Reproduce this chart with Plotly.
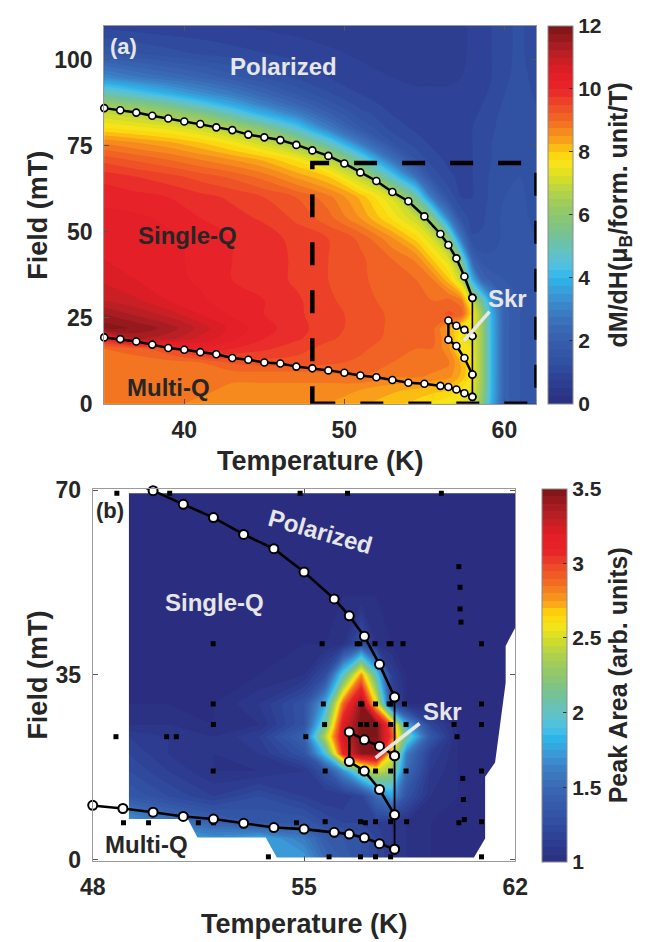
import plotly.graph_objects as go

FONT = "Liberation Sans, Arial, Helvetica, sans-serif"
INK = "#262626"
LIGHT = "#e6e6e6"

# ---------------- phase boundaries (T in K, field in mT) ----------------
upper_T = [35, 36, 37, 38, 39, 40, 41, 42, 43, 44, 45, 46, 47, 48, 49,
           50, 51, 52, 53, 54, 55, 56, 56.5, 57, 57.5, 58]
upper_F = [86.0, 85.4, 84.7, 83.8, 83.0, 82.1, 81.4, 80.4, 79.6, 78.3, 77.5, 76.7, 75.3, 73.7, 72.1,
           69.9, 67.3, 64.8, 61.6, 58.9, 54.5, 49.4, 46.2, 42.3, 37.0, 30.8]
lower_T = [35, 36, 37, 38, 39, 40, 41, 42, 43, 44, 45, 46, 47, 48, 49,
           50, 51, 52, 53, 54, 55, 56, 56.5, 57, 57.5, 58]
lower_F = [19.3, 18.8, 18.1, 17.2, 16.2, 15.7, 15.0, 14.4, 13.3, 12.8, 12.0, 11.7, 10.8, 10.3, 9.7,
           9.0, 8.2, 7.7, 6.9, 6.1, 5.8, 5.2, 4.85, 4.15, 3.05, 2.0]
vert_T = [58, 58, 58, 58]
vert_F = [30.8, 19.7, 8.5, 2.0]
skr_T = [58, 57.5, 57, 56.5, 56.5, 57, 57.5, 58]
skr_F = [19.7, 21.5, 22.7, 24.2, 18.6, 16.8, 13.3, 8.5]

# ---------------- panel (a): dM/dH map ----------------
dmdh_T = [35, 37, 39, 41, 43, 45, 47, 49, 51, 53, 54.5, 55.5, 56.5, 57.3, 58, 58.6, 59.2, 60, 61, 62]
dmdh_F = [0, 4, 8, 12, 16, 19, 22, 26, 30, 36, 42, 48, 54, 60, 66, 71, 76, 80, 84, 87, 90, 95, 102, 110]
dmdh_z = [
    [8.8, 8.8, 8.8, 8.7, 8.6, 8.6, 8.6, 8.5, 8.3, 8.1, 7.9, 7.7, 7.5, 7.4, 7.3, 6.0, 3.9, 2.1, 1.75, 1.65],
    [8.8, 8.8, 8.8, 8.8, 8.7, 8.7, 8.7, 8.6, 8.5, 8.3, 8.2, 8.1, 8.0, 7.7, 7.4, 6.2, 4.0, 2.1, 1.75, 1.65],
    [8.8, 8.8, 8.8, 8.8, 8.8, 8.8, 8.8, 8.9, 9.0, 8.8, 8.8, 8.7, 8.6, 8.2, 7.6, 6.3, 4.0, 2.1, 1.75, 1.65],
    [8.9, 8.9, 8.9, 9.0, 9.3, 9.4, 9.4, 9.3, 9.2, 9.0, 8.9, 8.9, 8.8, 8.2, 7.6, 6.3, 4.0, 2.1, 1.75, 1.65],
    [9.0, 9.1, 9.5, 10.2, 10.0, 9.8, 9.6, 9.4, 9.3, 9.1, 9.0, 9.0, 8.6, 7.6, 7.5, 6.3, 4.0, 2.1, 1.75, 1.65],
    [10.0, 11.3, 11.1, 10.7, 10.3, 10.0, 9.8, 9.55, 9.35, 9.2, 9.1, 9.1, 8.5, 7.5, 7.5, 6.3, 4.0, 2.1, 1.75, 1.65],
    [11.9, 11.7, 11.4, 10.9, 10.4, 10.1, 9.85, 9.6, 9.4, 9.2, 9.1, 9.1, 8.4, 7.6, 7.5, 6.3, 4.0, 2.1, 1.75, 1.65],
    [11.5, 11.2, 10.9, 10.5, 10.2, 10.0, 9.8, 9.6, 9.4, 9.2, 9.1, 9.1, 9.3, 9.2, 7.7, 6.2, 3.9, 2.1, 1.75, 1.65],
    [11.0, 10.8, 10.5, 10.3, 10.1, 10.0, 9.8, 9.55, 9.35, 9.15, 9.05, 9.0, 9.1, 8.8, 7.0, 5.2, 3.4, 2.0, 1.75, 1.65],
    [10.7, 10.5, 10.35, 10.2, 10.0, 9.9, 9.7, 9.5, 9.3, 9.1, 9.0, 8.8, 8.1, 7.0, 4.0, 2.3, 1.9, 1.75, 1.7, 1.6],
    [10.5, 10.4, 10.3, 10.2, 10.0, 9.9, 9.7, 9.5, 9.3, 9.0, 8.7, 8.0, 7.3, 5.4, 2.2, 1.6, 1.55, 1.6, 1.65, 1.55],
    [10.3, 10.4, 10.3, 10.2, 10.0, 9.9, 9.65, 9.5, 9.2, 8.55, 7.9, 7.2, 5.9, 2.8, 1.3, 1.3, 1.4, 1.55, 1.6, 1.5],
    [10.3, 10.3, 10.2, 10.0, 9.85, 9.7, 9.45, 9.1, 8.5, 7.7, 7.0, 5.8, 3.0, 1.5, 1.1, 1.2, 1.4, 1.55, 1.55, 1.45],
    [10.2, 10.1, 10.0, 9.85, 9.7, 9.5, 9.25, 8.85, 8.2, 7.2, 5.3, 2.8, 1.5, 1.0, 1.0, 1.1, 1.35, 1.5, 1.55, 1.4],
    [9.9, 9.75, 9.6, 9.4, 9.2, 8.9, 8.45, 8.0, 6.9, 4.6, 2.6, 1.5, 1.05, 0.95, 1.0, 1.15, 1.3, 1.45, 1.5, 1.4],
    [9.4, 9.2, 9.0, 8.75, 8.5, 8.2, 7.7, 6.8, 5.0, 2.6, 1.5, 1.1, 0.95, 0.9, 1.0, 1.1, 1.25, 1.45, 1.5, 1.4],
    [8.7, 8.5, 8.3, 8.0, 7.6, 7.0, 6.2, 4.8, 2.8, 1.5, 1.1, 0.95, 0.85, 0.9, 1.0, 1.1, 1.25, 1.45, 1.5, 1.4],
    [7.8, 7.65, 7.45, 7.1, 6.6, 5.8, 4.6, 3.0, 1.8, 1.15, 0.95, 0.85, 0.85, 0.9, 1.0, 1.1, 1.2, 1.4, 1.5, 1.35],
    [7.1, 6.8, 6.4, 5.9, 5.0, 4.0, 3.1, 2.1, 1.4, 1.0, 0.85, 0.85, 0.85, 0.9, 0.95, 1.05, 1.15, 1.35, 1.45, 1.3],
    [6.2, 5.9, 5.4, 4.6, 3.8, 3.0, 2.3, 1.65, 1.15, 0.9, 0.8, 0.8, 0.8, 0.85, 0.9, 1.0, 1.1, 1.3, 1.4, 1.25],
    [5.2, 4.6, 4.0, 3.4, 2.9, 2.3, 1.75, 1.3, 1.0, 0.85, 0.8, 0.8, 0.8, 0.8, 0.85, 0.95, 1.05, 1.25, 1.4, 1.2],
    [3.2, 2.8, 2.5, 2.2, 1.85, 1.5, 1.2, 1.0, 0.85, 0.75, 0.7, 0.7, 0.7, 0.75, 0.8, 0.9, 1.0, 1.2, 1.35, 1.15],
    [1.7, 1.5, 1.35, 1.2, 1.1, 1.0, 0.9, 0.8, 0.7, 0.65, 0.6, 0.6, 0.65, 0.7, 0.8, 0.9, 1.0, 1.2, 1.3, 1.1],
    [0.9, 0.85, 0.8, 0.8, 0.75, 0.7, 0.65, 0.6, 0.6, 0.6, 0.6, 0.6, 0.65, 0.7, 0.8, 0.9, 1.0, 1.2, 1.3, 1.1],
]

# ---------------- panel (b): peak area map ----------------
peak_T = [48, 49.2, 50.5, 52, 53.5, 55, 55.7, 56.3, 56.9, 57.4, 57.9, 58.4, 59.2, 60.1, 60.9, 62]
peak_F = [0, 4, 7, 12, 16.8, 20, 23.3, 25.6, 29.5, 35, 40.9, 50, 60, 70.3]
peak_z = [
    [1.5, 1.5, 1.5, 1.6, 1.7, 1.75, 1.5, 1.4, 1.3, 1.2, 1.1, 1.05, 1.0, 1.0, 1.0, 1.0],
    [1.7, 1.8, 1.8, 1.7, 1.8, 1.6, 1.4, 1.35, 1.3, 1.2, 1.1, 1.05, 1.0, 1.0, 1.0, 1.0],
    [1.6, 1.75, 1.6, 1.45, 1.35, 1.35, 1.25, 1.2, 1.2, 1.15, 1.1, 1.05, 1.0, 1.0, 1.0, 1.0],
    [1.3, 1.35, 1.25, 1.15, 1.25, 1.15, 1.1, 1.1, 1.2, 1.5, 1.75, 1.3, 1.05, 1.0, 1.0, 1.0],
    [1.2, 1.25, 1.15, 1.05, 1.05, 1.1, 1.3, 1.7, 2.2, 2.5, 2.3, 1.5, 1.1, 1.0, 1.0, 1.0],
    [1.15, 1.2, 1.1, 1.05, 1.1, 1.3, 1.9, 3.1, 3.45, 3.45, 2.6, 1.6, 1.15, 1.0, 1.0, 1.0],
    [1.1, 1.15, 1.1, 1.05, 1.15, 1.45, 2.4, 3.25, 3.5, 3.5, 3.0, 2.1, 1.35, 1.0, 1.0, 1.0],
    [1.05, 1.05, 1.05, 1.0, 1.05, 1.3, 2.1, 3.2, 3.5, 3.5, 2.9, 1.8, 1.2, 1.0, 1.0, 1.0],
    [1.0, 1.0, 1.0, 1.0, 1.1, 1.3, 1.8, 2.9, 3.45, 2.6, 1.3, 1.0, 1.0, 1.0, 1.0, 1.0],
    [1.0, 1.0, 1.0, 1.0, 1.0, 1.05, 1.25, 2.0, 2.8, 2.0, 1.15, 1.0, 1.0, 1.0, 1.0, 1.0],
    [1.0, 1.0, 1.0, 1.0, 1.0, 1.0, 1.0, 1.05, 1.3, 1.05, 1.0, 1.0, 1.0, 1.0, 1.0, 1.0],
    [1.0, 1.0, 1.0, 1.0, 1.0, 1.0, 1.0, 1.0, 1.0, 1.0, 1.0, 1.0, 1.0, 1.0, 1.0, 1.0],
    [1.0, 1.0, 1.0, 1.0, 1.0, 1.0, 1.0, 1.0, 1.0, 1.0, 1.0, 1.0, 1.0, 1.0, 1.0, 1.0],
    [1.0, 1.0, 1.0, 1.0, 1.0, 1.0, 1.0, 1.0, 1.0, 1.0, 1.0, 1.0, 1.0, 1.0, 1.0, 1.0],
]

# measured region of panel (b) (outside it the map is blank)
hull_T = [49.2, 51.15, 51.47, 53.73, 54.1, 60.63, 61.0, 61.0, 61.33, 61.68, 61.68, 62.0, 62.0, 49.2]
hull_F = [7.7, 7.7, 4.2, 4.2, 0.4, 0.4, 4.0, 15.7, 18.4, 33.5, 40.5, 44.0, 69.4, 69.4]

# measurement points of panel (b)
scan_T = [48.8, 50.55, 54.87, 56.44, 59.55,
          60.13, 60.17, 60.17, 60.2,
          51.99, 55.6, 56.76, 56.85, 57.35, 57.82, 57.88, 58.28, 60.88,
          51.99, 55.64, 56.87, 56.92, 57.37, 57.82, 57.88, 58.33, 60.88,
          52.0, 55.68, 56.87, 57.08, 57.37, 57.87, 58.38, 59.97, 60.88,
          48.77, 50.45, 50.77, 55.06, 60.07,
          51.99, 55.7, 56.87, 56.94, 57.37, 57.87, 58.38, 60.88,
          60.26, 60.28,
          49.02, 49.85, 51.5, 52.0, 54.75, 55.7, 56.87, 57.03, 57.37, 57.87, 58.4, 60.13, 60.31, 60.88,
          53.82, 55.83, 56.87, 57.37, 57.87, 60.88]
scan_F = [69.4, 69.4, 69.4, 69.4, 69.4,
          55.5, 51.6, 47.5, 45.0,
          40.9, 40.9, 40.9, 40.9, 40.9, 40.9, 40.9, 40.9, 40.9,
          29.5, 29.5, 29.5, 29.5, 29.5, 29.5, 29.5, 29.5, 29.5,
          25.6, 25.6, 25.6, 25.6, 25.6, 25.6, 25.6, 25.6, 25.6,
          23.3, 23.3, 23.3, 23.3, 23.3,
          16.8, 16.8, 16.8, 16.8, 16.8, 16.8, 16.8, 16.8,
          15.4, 11.4,
          7.0, 7.0, 7.0, 7.0, 7.0, 7.2, 7.2, 7.0, 7.2, 7.2, 7.2, 7.0, 7.6, 7.2,
          0.55, 0.55, 0.55, 0.55, 0.55, 0.55]

# axis ranges
a_T_range = [35, 62]
a_F_range = [0, 110]
b_T_range = [48, 62]
b_F_range = [-0.2, 70.3]
zoom_T = [48, 62]   # region of panel (a) shown in panel (b)
zoom_F = [0, 70]

cscale = [
    [0.0, "#2b2e80"], [0.06, "#2d3f93"], [0.11, "#3150a2"], [0.167, "#375ead"],
    [0.208, "#3a6db6"], [0.25, "#3b80c4"], [0.292, "#3a9ad8"], [0.333, "#2cb6ea"],
    [0.358, "#4bc0e6"], [0.40, "#63c2c4"], [0.442, "#71c19a"], [0.483, "#86c57a"],
    [0.525, "#9ccb5f"], [0.567, "#b9d543"], [0.60, "#d6de25"], [0.633, "#f6e41a"],
    [0.667, "#fdd20a"], [0.683, "#fbb116"], [0.708, "#f7941e"], [0.75, "#f26b23"],
    [0.792, "#ee4a28"], [0.833, "#e8232a"], [0.875, "#e31e26"], [0.933, "#b41f24"],
    [1.0, "#7b1517"],
]

W, H = 657, 942
A_X = [95 / W, 545 / W]
A_Y = [1 - 403 / H, 1 - 15 / H]
B_X = [83 / W, 523 / W]
B_Y = [1 - 872 / H, 1 - 490 / H]


def bold(size, color=INK):
    return dict(family=FONT, size=size, color=color, weight="bold")


def cbar(x_px, top_px, bot_px, tickvals, ticktext, title):
    return dict(
        x=x_px / W, xanchor="left", y=1 - bot_px / H, yanchor="bottom",
        len=(bot_px - top_px) / H, lenmode="fraction", thickness=25, thicknessmode="pixels",
        xpad=0, ypad=0, outlinewidth=1, outlinecolor="#8c8c8c",
        ticks="inside", ticklen=4, tickcolor="#333333", tickwidth=1,
        tickvals=tickvals, ticktext=ticktext, tickfont=bold(21),
        title=dict(text=title, side="right", font=bold(25)),
    )


fig = go.Figure()

fig.add_trace(go.Contour(
    x=dmdh_T, y=dmdh_F, z=dmdh_z, xaxis="x", yaxis="y",
    colorscale=cscale, zmin=0, zmax=12,
    contours=dict(start=0, end=12, size=0.25, coloring="fill", showlines=False),
    line=dict(width=0, smoothing=1), hoverinfo="skip",
    colorbar=cbar(557, 15, 403, [0, 2, 4, 6, 8, 10, 12], ["0", "2", "4", "6", "8", "10", "12"],
                  "dM/dH(\u03bc<sub>B</sub>/form. unit/T)"),
))

fig.add_trace(go.Contour(
    x=peak_T, y=peak_F, z=peak_z, xaxis="x2", yaxis="y2",
    colorscale=cscale, zmin=1, zmax=3.5,
    contours=dict(start=1, end=3.5, size=0.05, coloring="fill", showlines=False),
    line=dict(width=0, smoothing=0), hoverinfo="skip",
    colorbar=cbar(551, 490, 873, [1, 1.5, 2, 2.5, 3, 3.5], ["1", "1.5", "2", "2.5", "3", "3.5"],
                  "Peak Area (arb. units)"),
))

# blank (unmeasured) area of panel (b)
mask_T = [b_T_range[0], b_T_range[1], hull_T[-2], hull_T[-1]] + hull_T[:-2] + [b_T_range[1], b_T_range[0]]
mask_F = [b_F_range[1], b_F_range[1], hull_F[-2], hull_F[-1]] + hull_F[:-2] + [b_F_range[0], b_F_range[0]]
fig.add_trace(go.Scatter(x=mask_T, y=mask_F, xaxis="x2", yaxis="y2", mode="lines",
                         fill="toself", fillcolor="white", line=dict(width=0, color="white"),
                         hoverinfo="skip", showlegend=False))

fig.add_trace(go.Scatter(x=scan_T, y=scan_F, xaxis="x2", yaxis="y2", mode="markers",
                         marker=dict(symbol="square", size=5, color="black"),
                         hoverinfo="skip", showlegend=False, cliponaxis=False))

# phase lines, panel (a)
for tx, fy, lw in [(upper_T, upper_F, 2.5), (lower_T, lower_F, 2.5), (skr_T, skr_F, 2.5)]:
    fig.add_trace(go.Scatter(x=tx, y=fy, xaxis="x", yaxis="y", mode="lines+markers",
                             line=dict(color="black", width=lw),
                             marker=dict(size=7, color="white", line=dict(color="black", width=1.6)),
                             cliponaxis=False, hoverinfo="skip", showlegend=False))
fig.add_trace(go.Scatter(x=vert_T, y=vert_F, xaxis="x", yaxis="y", mode="lines+markers",
                         line=dict(color="black", width=1.6),
                         marker=dict(size=7, color="white", line=dict(color="black", width=1.6)),
                         cliponaxis=False, hoverinfo="skip", showlegend=False))


def in_b(tx, fy):
    pts = [(t, f) for t, f in zip(tx, fy)
           if b_T_range[0] <= t <= b_T_range[1] and b_F_range[0] <= f <= b_F_range[1]]
    return [p[0] for p in pts], [p[1] for p in pts]


# phase lines, panel (b)
for tx, fy, lw in [(upper_T, upper_F, 2.6), (lower_T, lower_F, 2.6), (skr_T, skr_F, 2.6), (vert_T, vert_F, 1.8)]:
    fig.add_trace(go.Scatter(x=tx, y=fy, xaxis="x2", yaxis="y2", mode="lines",
                             line=dict(color="black", width=lw), hoverinfo="skip", showlegend=False))
    mx, my = in_b(tx, fy)
    fig.add_trace(go.Scatter(x=mx, y=my, xaxis="x2", yaxis="y2", mode="markers",
                             marker=dict(size=9, color="white", line=dict(color="black", width=2)),
                             cliponaxis=False, hoverinfo="skip", showlegend=False))

axis_common = dict(showgrid=False, zeroline=False, showline=True, linecolor="#9a9a9a", linewidth=1,
                   mirror="ticks", ticks="inside", ticklen=5, tickcolor="#555555",
                   tickfont=bold(23), ticklabelstandoff=6)

fig.update_layout(
    width=W, height=H, margin=dict(l=0, r=0, t=0, b=0),
    paper_bgcolor="white", plot_bgcolor="white", showlegend=False,
    xaxis=dict(domain=A_X, anchor="y", range=a_T_range, tickvals=[40, 50, 60], **axis_common),
    yaxis=dict(domain=A_Y, anchor="x", range=a_F_range, tickvals=[0, 25, 50, 75, 100], **axis_common),
    xaxis2=dict(domain=B_X, anchor="y2", range=b_T_range, tickvals=[48, 55, 62], **axis_common),
    yaxis2=dict(domain=B_Y, anchor="x2", range=b_F_range, tickvals=[0, 35, 70], **axis_common),
)

# dashed zoom box and Skr pointers
fig.add_shape(type="rect", xref="x", yref="y", x0=zoom_T[0], x1=zoom_T[1], y0=zoom_F[0], y1=zoom_F[1],
              line=dict(color="black", width=4.5, dash="23px,25px"), layer="above")
fig.add_shape(type="line", xref="x", yref="y", x0=59.07, y0=26.8, x1=57.47, y1=18.3,
              line=dict(color=LIGHT, width=3.5), layer="above")
fig.add_shape(type="line", xref="x2", yref="y2", x0=58.83, y0=25.8, x1=57.37, y1=19.3,
              line=dict(color=LIGHT, width=3.5), layer="above")

ann = []


def txt(text, x, y, xref, yref, size, color=INK, angle=0, yanchor="middle"):
    ann.append(dict(text=text, x=x, y=y, xref=xref, yref=yref, showarrow=False,
                    font=bold(size, color), textangle=angle, xanchor="center", yanchor=yanchor))


txt("(a)", 36.2, 104, "x", "y", 22, LIGHT)
txt("Polarized", 46.2, 98, "x", "y", 24, LIGHT)
txt("Single-Q", 40.2, 49, "x", "y", 24)
txt("Multi-Q", 39.0, 4.8, "x", "y", 24)
txt("Skr", 60.2, 30.6, "x", "y", 24, LIGHT)

txt("(b)", 48.57, 66.1, "x2", "y2", 22)
txt("Polarized", 55.54, 62.1, "x2", "y2", 24, LIGHT, 16)
txt("Single-Q", 52.04, 48.8, "x2", "y2", 24, LIGHT)
txt("Multi-Q", 49.78, 2.9, "x2", "y2", 24)
txt("Skr", 59.58, 28.0, "x2", "y2", 24, LIGHT)
txt("|", 58.2, -3.2, "x2", "y2", 11, "#444444")

# axis titles
txt("Temperature (K)", 320 / W, 1 - 444 / H, "paper", "paper", 27, yanchor="top")
txt("Temperature (K)", 303 / W, 1 - 919 / H, "paper", "paper", 27, yanchor="top")
txt("Field (mT)", 26 / W, 1 - 209 / H, "paper", "paper", 27, INK, -90)
txt("Field (mT)", 26 / W, 1 - 681 / H, "paper", "paper", 27, INK, -90)

fig.update_layout(annotations=ann)
fig.write_html("out.html")
